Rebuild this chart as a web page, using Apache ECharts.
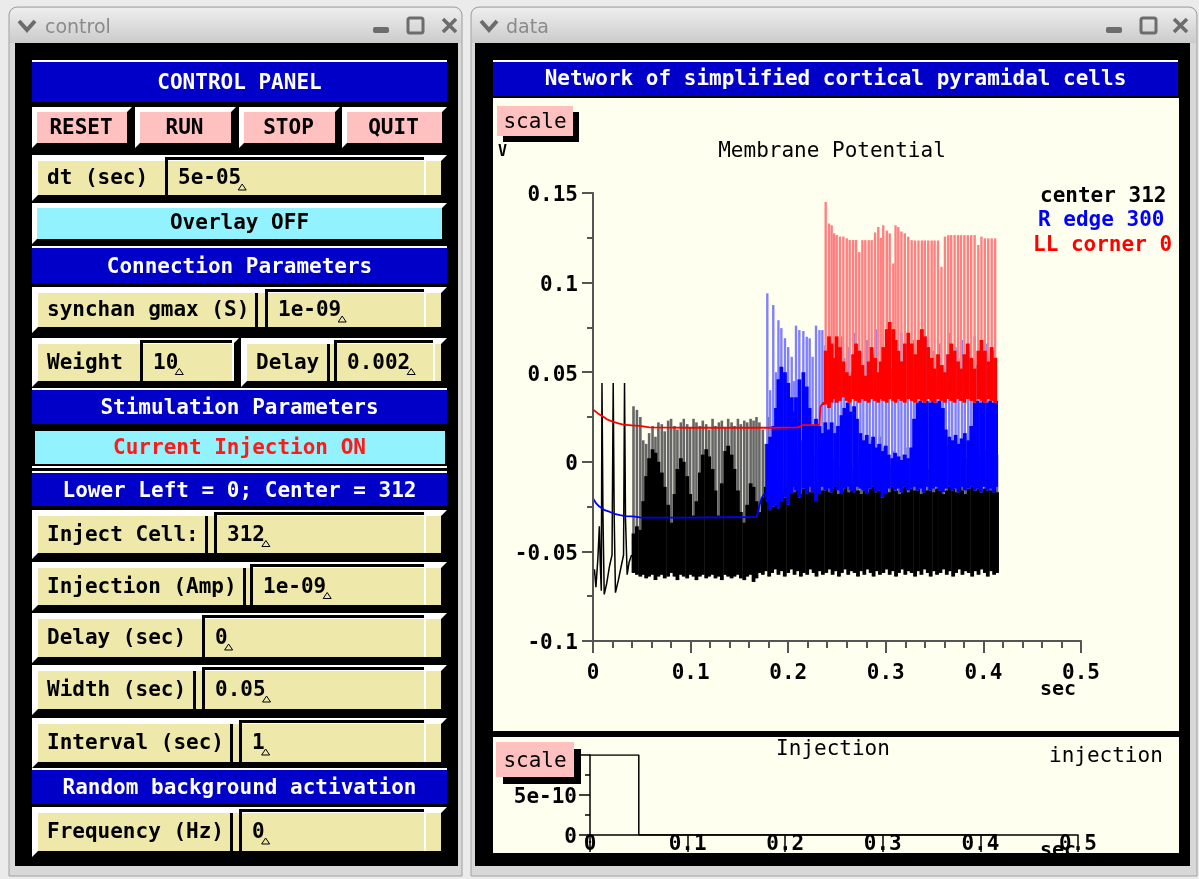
<!DOCTYPE html>
<html><head><meta charset="utf-8">
<script src="https://cdn.jsdelivr.net/npm/echarts@6/dist/echarts.min.js"></script>
<style>html,body{margin:0;padding:0;background:#ebebeb;}#c{width:1199px;height:879px;}</style>
</head><body><div id="c"></div>
<script>
// ---------------- DATA (time in ms, potential in mV) ----------------
const tTickLabels = ['0','0.1','0.2','0.3','0.4','0.5'];
const vTickLabels = ['-0.1','-0.05','0','0.05','0.1','0.15'];
const iTickLabels = ['0','5e-10',''];
const legendNames = ['center 312','R edge 300','LL corner 0'];

// smooth / early parts of each trace: [t, V]
const blackBase = [[0,-64],[1.5,-60],[3,-70],[5,-54],[6.5,-36],[7.5,-58],[8.5,-72],[9.2,44],[10.2,-30],[11.5,-74],[14,-68],[17,-58],[19.5,-52],[20.7,44],[21.7,-30],[23,-73],[26,-66],[29,-58],[31.3,-52],[32.3,44],[33.3,-32],[35,-63],[37,-56],[39.5,-52]];
const blueBase = [[0,-20.4],[3,-23],[6.5,-25],[12,-27],[17.4,-28],[22,-29],[27.7,-29.8],[33,-30.3],[41,-30.5],[48,-31],[55,-31.2],[100,-31.2],[167.7,-30.8],[170.7,-24],[173,-20],[176,-17.5]];
const redBase = [[0,29.2],[5,27],[10.6,25.1],[15,23.5],[20.8,22.3],[26,21.4],[31,20.8],[40,20.3],[48,20],[58,19.2],[100,19],[180,19],[210,19.2],[215,20.5],[232,20.5],[233,30.7],[236,33],[237.5,32]];

// spikes: [t, peak, top of dense band, low]
const blackSpikes = [
[41.5,31,-40,-62],[45,29,-36,-63],[48.5,25,-38,-64],[51.5,12,-22,-63],[54.5,10,-8,-65],[57.5,16,2,-64],[61,20,7,-63],[64,14,5,-66],[67,22,0,-64],[70.5,21,-6,-63],
[73.5,17,-14,-65],[77,23,-24,-64],[80,24,-34,-62],[83.5,20,-18,-64],[86.5,18,-4,-66],[90,22,2,-63],[93,24,0,-64],[96.5,21,-8,-65],[99.5,19,-18,-63],[103,24,-30,-64],
[106,22,-22,-66],[109.5,20,-6,-64],[112.5,23,4,-63],[116,21,7,-65],[119,18,3,-64],[122.5,24,-4,-63],[125.5,20,-16,-65],[129,22,-30,-64],[132,23,-12,-66],[135.5,19,6,-63],
[138.5,24,9,-64],[142,22,4,-65],[145,20,-4,-64],[148.5,24,-16,-63],[151.5,21,-28,-65],[155,23,-34,-66],[158,22,-24,-64],[161.5,24,-12,-63],[164.5,23,-14,-67],[167.5,25,-22,-65],
[170.5,22,-28,-62],[174,18,-20,-63],[177,10,-14,-61],[180.5,25,-12,-64],[183.5,5,-16,-62],[187,8,-18,-60],[190,-5,-14,-63],[193.5,0,-16,-61],[196.5,-8,-20,-64],[200,4,-15,-62],
[203,-2,-13,-60],[206.5,10,-17,-63],[209.5,6,-14,-61],[213,12,-18,-64],[216,8,-15,-62],[219.5,4,-13,-63],[222.5,-4,-17,-60],[226,2,-15,-62],[229,8,-14,-64],[232.5,10,-18,-61],
[235.5,4,-16,-63],[239,-2,-14,-62],[242,6,-17,-60],[245.5,2,-15,-63],[248.5,9,-13,-61],[252,-3,-18,-64],[255,5,-16,-62],[258.5,11,-14,-60],[261.5,3,-17,-63],[265,-4,-15,-61],
[268,7,-13,-62],[271.5,2,-16,-64],[274.5,9,-18,-61],[278,-1,-14,-63],[281,6,-17,-60],[284.5,12,-15,-62],[287.5,4,-13,-64],[291,10,-16,-61],[294,14,-14,-63],[297.5,8,-18,-62],
[300.5,3,-15,-60],[304,-2,-17,-63],[307,6,-14,-61],[310.5,1,-16,-64],[313.5,-5,-18,-62],[317,4,-15,-60],[320,8,-13,-63],[323.5,2,-17,-61],[326.5,-3,-14,-62],[330,5,-16,-64],
[333,9,-15,-61],[336.5,0,-18,-63],[339.5,6,-14,-60],[343,-4,-16,-62],[346,3,-13,-64],[349.5,7,-17,-61],[352.5,1,-15,-63],[356,-2,-14,-62],[359,5,-18,-60],[362.5,9,-16,-63],
[365.5,3,-13,-61],[369,6,-15,-64],[372,11,-17,-62],[375.5,13,-14,-60],[378.5,7,-16,-63],[382,2,-18,-61],[385,8,-15,-62],[388.5,4,-13,-64],[391.5,-1,-16,-61],[395,5,-14,-63],
[398,2,-17,-60],[401.5,7,-15,-62],[404.5,3,-13,-64],[408,6,-16,-61],[411,1,-14,-63],[414,4,-17,-62]];

const blueSpikes = [
[178.6,94,10,-22],[181.5,40,14,-27],[184.7,87.5,20,-25],[187.5,50,30,-24],[190,79,46,-26],[193,74.6,53,-22],[196.7,69,50,-20],[200,64,44,-24],[203.6,58.6,36,-18],[206,45,28,-14],
[208,76,36,-16],[211.4,73.5,46,-20],[215.5,73,50,-15],[219,69.8,42,-18],[222,68.9,30,-14],[225,58.6,20,-17],[228.5,76,24,-22],[232,73.5,20,-18],[235,73.5,16,-14],[238,65,22,-16],
[241.5,60,18,-15],[244.5,52,22,-17],[248,66,16,-14],[251,48,20,-16],[254.5,70,26,-18],[257.5,58,30,-15],[261,64,33,-14],[264,50,28,-16],[267.5,72,31,-17],[270.5,56,24,-14],
[274,62,16,-15],[277,48,12,-16],[280.5,68,15,-18],[283.5,54,10,-15],[287,60,14,-14],[290,74,8,-17],[293.5,50,10,-16],[296.5,66,6,-20],[300,58,9,-18],[303,70,4,-15],
[306.5,52,2,-14],[309.5,64,5,-16],[313,56,3,-15],[316,72,1,-17],[319.5,48,4,-14],[322.5,62,2,-16],[326,54,8,-15],[329,68,24,-14],[332.5,58,33,-16],[335.5,64,34,-15],
[339,50,33,-17],[342,70,34,-14],[345.5,56,33,-16],[348.5,62,34,-15],[352,48,33,-14],[355,66,34,-16],[358.5,54,30,-17],[361.5,60,18,-15],[365,72,14,-14],[368,52,12,-16],
[371.5,64,15,-15],[374.5,58,10,-17],[378,68,13,-14],[381,50,16,-16],[384.5,62,12,-15],[387.5,56,20,-14],[391,70,33,-16],[394,54,34,-15],[397.5,64,33,-17],[400.5,60,34,-14],
[404,66,33,-16],[407,52,34,-15],[410.5,62,33,-17],[413,58,34,-14]];

const redSpikes = [
[238.4,145,62,32],[241.8,133,70,30],[244.5,132,66,33],[247,127.5,58,35],[249.7,126.6,70,33],[253,125.7,64,34],[256.5,125.7,56,36],[260,124.7,50,34],[263,123.8,48,33],[266.5,123.8,60,35],
[269.5,123.8,66,34],[272.8,117,62,33],[276,123.7,54,35],[279,123.7,48,34],[282.5,123.7,56,33],[285.5,123.7,64,35],[289,128,58,34],[292.3,131,50,33],[295,125,56,35],[297.4,132,64,34],
[301,129,74,33],[304,127.5,78,35],[307.7,110.7,74,34],[310,132,68,33],[312.8,131,62,35],[316,128.5,56,34],[319.5,127.5,66,33],[323,125.6,72,35],[326.5,123.7,66,34],[330,123.5,60,33],
[333.5,123.5,68,35],[337,123.5,74,34],[340,123.5,70,33],[343.5,123.5,64,35],[347,123.5,58,34],[350,123.5,52,33],[353.5,123.5,60,35],[357,108.8,54,34],[360.6,125.7,50,33],[364,126.5,60,35],
[367,126.5,66,34],[370.5,126.5,62,33],[374,126.5,56,35],[377,126.5,52,34],[380.5,126.5,60,33],[384,126.5,66,35],[387.5,126.5,58,34],[391,126.5,52,33],[394.8,121,62,35],[398,125.7,68,34],
[401.5,124.7,62,33],[405,124.7,56,35],[408.5,124.7,64,34],[412,124.7,58,33]];

// injection current: [t (s), A]
const injection = [[0,1e-9],[0.05,1e-9],[0.05,0],[0.415,0]];

// ---------------- GUI drawing helpers ----------------
const MONO = '"DejaVu Sans Mono","Liberation Mono",monospace';
const BLUE = '#0000c8', KHAKI = '#eee8aa', PINK = '#ffc0c0', CYAN = '#92f2fd', CREAM = '#fffff0';
const G = [];
function rect(x,y,w,h,fill,z){ const e={type:'rect',shape:{x:x,y:y,width:w,height:h},style:{fill:fill},silent:true}; if(z!==undefined) e.z=z; G.push(e); }
function poly(pts,fill){ G.push({type:'polygon',shape:{points:pts},style:{fill:fill},silent:true}); }
function line(x1,y1,x2,y2,c,w){ G.push({type:'line',shape:{x1:x1,y1:y1,x2:x2,y2:y2},style:{stroke:c,lineWidth:w},silent:true}); }
function text(x,y,s,o){ G.push({type:'text',x:x,y:y+2,silent:true,style:Object.assign({text:s,fill:'#000',font:'bold 21px '+MONO,align:'left',verticalAlign:'middle'},o||{})}); }
function raised(x,y,w,h,face,b){
  rect(x,y,w,h,'#ffffff');
  poly([[x+w,y],[x+w,y+h],[x,y+h],[x+b,y+h-b],[x+w-b,y+h-b],[x+w-b,y+b]],'#000000');
  rect(x+b,y+b,w-2*b,h-2*b,face);
}
function bar(y,h,s){ rect(32,y-2,415,2,'#ffffff'); rect(32,y,415,h,BLUE); text(239.5,y+h/2,s,{fill:'#ffffff',align:'center'}); }
function caret(cx,cy){ G.push({type:'polygon',shape:{points:[[cx-4,cy+3],[cx,cy-3],[cx+4,cy+3]]},style:{fill:KHAKI,stroke:'#000',lineWidth:1},silent:true}); }
function dialog(x,w,y,h,labelEnd,valueStart,valueEnd,label,value){
  raised(x,y,w,h,KHAKI,6);
  rect(labelEnd,y+6,3,h-12,'#000');
  rect(valueStart-3,y+2,valueEnd-valueStart+3,3,'#000');
  rect(valueStart-3,y+2,3,h-8,'#000');
  rect(valueEnd,y+5,2,h-11,'#ffffff');
  text(x+15,y+h/2-1,label);
  const tx=valueStart+10;
  text(tx,y+h/2-1,value);
  caret(tx+value.length*12.64+1,y+h/2+9);
}
function pinkButton(x,y,w,h,off,label){ rect(x+off,y+off,w,h,'#000'); rect(x,y,w,h,PINK); text(x+w/2,y+h/2,label,{align:'center',font:'21px '+MONO}); }
function win(x,y,w,h,title,tx,ix){
  G.push({type:'rect',shape:{x:x,y:y,width:w,height:h,r:[8,8,0,0]},style:{fill:'#d8d8d8',stroke:'#a0a0a0',lineWidth:1},silent:true});
  G.push({type:'rect',shape:{x:x+1,y:y+1,width:w-2,height:35,r:[7,7,0,0]},style:{fill:{type:'linear',x:0,y:0,x2:0,y2:1,colorStops:[{offset:0,color:'#eeeeee'},{offset:1,color:'#cbcbcb'}]}},silent:true});
  text(tx,y+19,title,{fill:'#8a8a8a',font:'19px "DejaVu Sans",sans-serif'});
  G.push({type:'polyline',shape:{points:[[x+10,y+14],[x+18,y+23],[x+26,y+14]]},style:{stroke:'#6c6c6c',lineWidth:4,fill:null},silent:true});
  G.push({type:'rect',shape:{x:ix[0],y:y+20,width:16,height:6,r:2},style:{fill:'#6c6c6c'},silent:true});
  G.push({type:'rect',shape:{x:ix[1],y:y+11,width:15,height:15,r:2},style:{fill:null,stroke:'#6c6c6c',lineWidth:3},silent:true});
  line(ix[2],y+12,ix[2]+13,y+25,'#6c6c6c',3.5); line(ix[2]+13,y+12,ix[2],y+25,'#6c6c6c',3.5);
}

// ---- control window ----
win(9,7,453,869,'control',45,[373,408,443]);
rect(15,43,443,823,'#000');
bar(62,40,'CONTROL PANEL');
[['RESET',32,100],['RUN',135,101],['STOP',239,101],['QUIT',342,105]].forEach(function(b){ raised(b[1],107,b[2],41,PINK,5); text(b[1]+b[2]/2-1,127,b[0],{align:'center'}); });
dialog(32,415,155,46,165,168,424,'dt (sec)','5e-05');
raised(32,203,415,41,CYAN,5); text(239.5,222,'Overlay OFF',{align:'center'});
bar(248,35,'Connection Parameters');
dialog(32,415,287,46,255,268,424,'synchan gmax (S)','1e-09');
dialog(32,207,338,49,140,143,232,'Weight','10');
dialog(241,206,338,49,327,337,433,'Delay','0.002');
bar(390,34,'Stimulation Parameters');
rect(32,428,415,40,'#000'); rect(35,431,410,33,CYAN); rect(32,466,415,2,'#ffffff');
text(239.5,447,'Current Injection ON',{align:'center',fill:'#ff1a1a'});
bar(473,33,'Lower Left = 0; Center = 312');
dialog(32,415,510,49,205,217,424,'Inject Cell:','312');
dialog(32,415,562,49,243,253,424,'Injection (Amp)','1e-09');
dialog(32,415,613,50,202,205,424,'Delay (sec)','0');
dialog(32,415,665,50,193,205,424,'Width (sec)','0.05');
dialog(32,415,718,50,230,242,424,'Interval (sec)','1');
bar(770,34,'Random background activation');
dialog(32,415,807,50,230,242,424,'Frequency (Hz)','0');

// ---- data window ----
win(471,7,726,869,'data',506,[1106,1141,1174]);
rect(475,43,715,823,'#000');
rect(493,60,685,2,'#ffffff'); rect(493,62,685,34,BLUE);
text(835.5,78,'Network of simplified cortical pyramidal cells',{align:'center',fill:'#ffffff'});
rect(493,98,686,633,CREAM);
rect(493,737,686,116,CREAM);
text(498,150,'V',{font:'bold 15px '+MONO});
pinkButton(497,106,76,30,6,'scale');
text(832,150,'Membrane Potential',{align:'center',font:'21px '+MONO});
text(1040,195,legendNames[0],{fill:'#000000'});
text(1038,219,legendNames[1],{fill:'#0000ff'});
text(1033,244,legendNames[2],{fill:'#ff0000'});
text(1040,688,'sec',{font:'bold 20px '+MONO});
pinkButton(496,742,78,35,7,'scale');
text(833,748,'Injection',{align:'center',font:'21px '+MONO});
text(1049,755,'injection',{font:'21px '+MONO});
text(1040,849,'sec',{font:'bold 20px '+MONO});
rect(475,853,715,13,'#000',100);

// ---------------- chart ----------------
function ms(rows){ return rows.map(function(r){ return [r[0]/1000, r[1]/1000]; }); }
function baseSeries(rows,color,w){ return {type:'line',xAxisIndex:0,yAxisIndex:0,z:3,silent:true,symbol:'none',showSymbol:false,data:ms(rows),lineStyle:{color:color,width:w},itemStyle:{color:color}}; }
function spikeSeries(rows,color,dense,lw){
  return {type:'custom',xAxisIndex:0,yAxisIndex:0,z:3,silent:true,
    data:rows.map(function(r){ return [r[0]/1000,r[1]/1000,r[2]/1000,r[3]/1000]; }),
    encode:{x:0,y:[1,3]},
    renderItem:function(params,api){
      const t=api.value(0), top=api.value(dense?2:1), lo=api.value(3);
      const a=api.coord([t,lo]), b=api.coord([t,top]);
      return {type:'line',shape:{x1:a[0],y1:a[1],x2:b[0],y2:b[1]},style:{stroke:color,lineWidth:lw}};
    }};
}
const axisFont = {fontFamily:MONO,fontSize:21,fontWeight:'bold',color:'#000'};
const option = {
  backgroundColor:'#ebebeb',
  animation:false,
  graphic:{elements:G},
  grid:[
    {left:593,top:193,width:488,height:448,containLabel:false,outerBoundsMode:'none',show:false},
    {left:590,top:755,width:488,height:80,containLabel:false,outerBoundsMode:'none',show:false}
  ],
  xAxis:[
    {type:'value',gridIndex:0,min:0,max:0.5,interval:0.1,z:5,
     axisLine:{show:true,onZero:false,lineStyle:{color:'#555',width:2}},
     axisTick:{show:true,length:12,lineStyle:{color:'#555',width:2}},
     minorTick:{show:true,splitNumber:5,length:7,lineStyle:{color:'#555',width:2}},
     splitLine:{show:false},minorSplitLine:{show:false},
     axisLabel:Object.assign({margin:22,showMinLabel:true,showMaxLabel:true,formatter:function(v){return tTickLabels[Math.round(v*10)];}},axisFont)},
    {type:'value',gridIndex:1,min:0,max:0.5,interval:0.1,z:5,
     axisLine:{show:true,onZero:false,lineStyle:{color:'#000',width:1.5}},
     axisTick:{show:true,length:17,lineStyle:{color:'#000',width:1.5}},
     splitLine:{show:false},
     axisLabel:Object.assign({margin:-1,showMinLabel:true,showMaxLabel:true,formatter:function(v){return tTickLabels[Math.round(v*10)];}},axisFont)}
  ],
  yAxis:[
    {type:'value',gridIndex:0,min:-0.1,max:0.15,interval:0.05,z:5,
     axisLine:{show:true,onZero:false,lineStyle:{color:'#555',width:2}},
     axisTick:{show:true,length:11,lineStyle:{color:'#555',width:2}},
     minorTick:{show:true,splitNumber:2,length:6,lineStyle:{color:'#555',width:2}},
     splitLine:{show:false},minorSplitLine:{show:false},
     axisLabel:Object.assign({margin:15,showMinLabel:true,showMaxLabel:true,formatter:function(v){return '\n'+vTickLabels[Math.round((v+0.1)/0.05)];}},axisFont,{lineHeight:6,verticalAlign:'middle'})},
    {type:'value',gridIndex:1,min:0,max:1e-9,interval:5e-10,z:5,
     axisLine:{show:true,onZero:false,lineStyle:{color:'#000',width:1.5}},
     axisTick:{show:true,length:11,lineStyle:{color:'#000',width:1.5}},
     minorTick:{show:true,splitNumber:2,length:5,lineStyle:{color:'#000',width:1.5}},
     splitLine:{show:false},minorSplitLine:{show:false},
     axisLabel:Object.assign({margin:13,showMinLabel:true,showMaxLabel:true,formatter:function(v){return '\n'+iTickLabels[Math.round(v/5e-10)];}},axisFont,{lineHeight:6,verticalAlign:'middle'})}
  ],
  series:[
    baseSeries(blackBase,'#000000',1.5),
    spikeSeries(blackSpikes,'#666666',false,2.6),
    spikeSeries(blackSpikes,'#000000',true,3.8),
    baseSeries(blueBase,'#0000ff',1.8),
    spikeSeries(blueSpikes,'#8080ff',false,2.4),
    spikeSeries(blueSpikes,'#0000ff',true,3.8),
    baseSeries(redBase,'#ff0000',1.8),
    spikeSeries(redSpikes,'#ff8080',false,2.4),
    spikeSeries(redSpikes,'#ff0000',true,3.8),
    {type:'line',xAxisIndex:1,yAxisIndex:1,z:3,silent:true,symbol:'none',data:injection,lineStyle:{color:'#000',width:1.5}}
  ]
};
const chart = echarts.init(document.getElementById('c'),null,{renderer:'canvas',width:1199,height:879});
chart.setOption(option);
</script></body></html>
